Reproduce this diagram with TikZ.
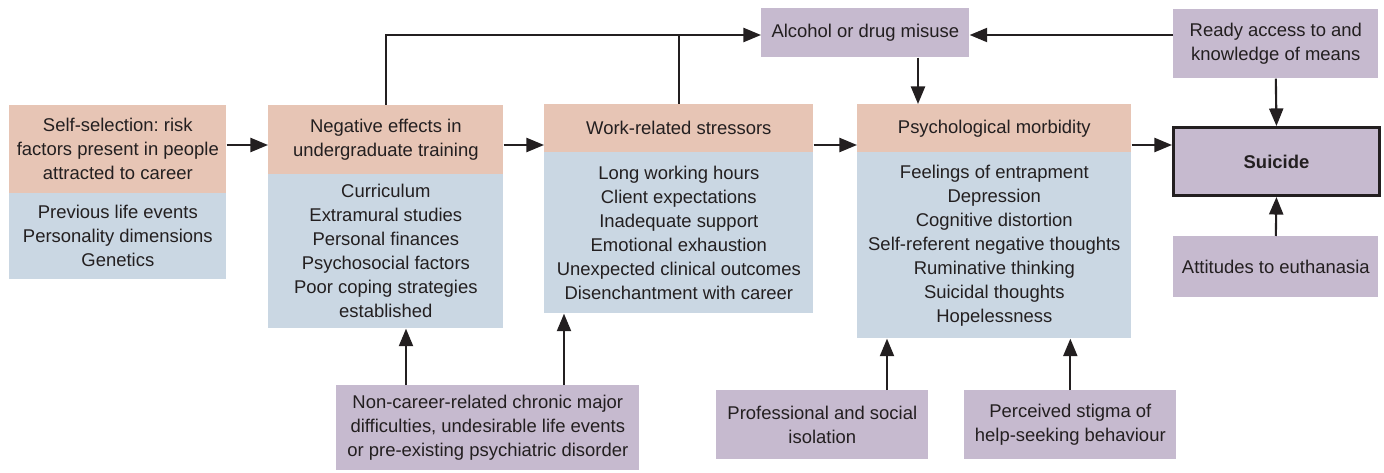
\documentclass[tikz,border=0pt]{standalone}
\usepackage{fontspec}
\setmainfont{Liberation Sans}
\frenchspacing
\usetikzlibrary{calc,arrows.meta}
\definecolor{peach}{HTML}{E7C5B5}
\definecolor{bluegrey}{HTML}{CAD7E3}
\definecolor{lilac}{HTML}{C6BACF}
\definecolor{ink}{HTML}{231F20}
\tikzset{
	box/.style={rectangle, anchor=north west, inner sep=0pt, align=center, text=ink,
		font=\fontsize{10.5}{13.66}\selectfont},
	headbox/.style={box, fill=peach},
	bodybox/.style={box, fill=bluegrey},
	sidebox/.style={box, fill=lilac},
	arr/.style={draw=ink, line width=1.2pt, -{Triangle[length=10pt,width=8pt]}},
	link/.style={draw=ink, line width=1.2pt}
}

\begin{document}
\begin{tikzpicture}[x=0.02cm, y=-0.02cm]
		%%%%% START %%%%%
		\useasboundingbox (0, 0) rectangle (1384, 473);
		
		\node[headbox, minimum width=4.34cm, minimum height=1.76cm] (selfH) at (9, 105) {Self-selection: risk\\factors present in people\\attracted to career};
		\node[bodybox, minimum width=4.34cm, minimum height=1.72cm] (selfB) at (9, 193) {Previous life events\\Personality dimensions\\Genetics};
		
		\node[headbox, minimum width=4.70cm, minimum height=1.38cm] (negH) at (268, 105) {Negative effects in\\undergraduate training};
		\node[bodybox, minimum width=4.70cm, minimum height=3.08cm] (negB) at (268, 174) {Curriculum\\Extramural studies\\Personal finances\\Psychosocial factors\\Poor coping strategies\\established};
		
		\node[headbox, minimum width=5.38cm, minimum height=0.96cm] (workH) at (544, 104) {Work-related stressors};
		\node[bodybox, minimum width=5.38cm, minimum height=3.22cm] (workB) at (544, 152) {Long working hours\\Client expectations\\Inadequate support\\Emotional exhaustion\\Unexpected clinical outcomes\\Disenchantment with career};
		
		\node[headbox, minimum width=5.48cm, minimum height=0.96cm] (psyH) at (857, 104) {Psychological morbidity};
		\node[bodybox, minimum width=5.48cm, minimum height=3.72cm] (psyB) at (857, 152) {Feelings of entrapment\\Depression\\Cognitive distortion\\Self-referent negative thoughts\\Ruminative thinking\\Suicidal thoughts\\Hopelessness};
		
		\node[sidebox, draw=ink, line width=1.7pt, minimum width=4.12cm, minimum height=1.36cm, font=\fontsize{10.5}{13.66}\selectfont\bfseries] (suicide) at (1172, 126) {Suicide};
		
		\node[sidebox, minimum width=4.16cm, minimum height=0.98cm] (alcohol) at (761, 8) {Alcohol or drug misuse};
		\node[sidebox, minimum width=4.10cm, minimum height=1.38cm] (ready) at (1173, 9) {Ready access to and\\knowledge of means};
		\node[sidebox, minimum width=4.10cm, minimum height=1.22cm] (attitudes) at (1173, 236) {Attitudes to euthanasia};
		\node[sidebox, minimum width=6.06cm, minimum height=1.70cm] (noncareer) at (336, 385) {Non-career-related chronic major\\difficulties, undesirable life events\\or pre-existing psychiatric disorder};
		\node[sidebox, minimum width=4.24cm, minimum height=1.38cm] (prof) at (716, 390) {Professional and social\\isolation};
		\node[sidebox, minimum width=4.24cm, minimum height=1.38cm] (stigma) at (964, 390) {Perceived stigma of\\help-seeking behaviour};
		
		\coordinate (row) at (0, 145);
		\coordinate (top) at (0, 35);
		\coordinate (ncL) at (406, 0);
		\coordinate (ncR) at (564, 0);
		\coordinate (profX) at (887, 0);
		\coordinate (alcX) at (918, 0);
		
		\draw[arr] (selfH.east |- row) -- (negH.west |- row);
		\draw[arr] (negH.east |- row) -- (workH.west |- row);
		\draw[arr] (workH.east |- row) -- (psyH.west |- row);
		\draw[arr] (psyH.east |- row) -- (suicide.west |- row);
		
		\draw[arr] (negH.north) |- (alcohol.west |- top);
		\draw[link] (workH.north) -- (workH.north |- top);
		\draw[arr] (ready.west |- top) -- (alcohol.east |- top);
		\draw[arr] (alcohol.south -| alcX) -- (psyH.north -| alcX);
		
		\draw[arr] (ready.south) -- (suicide.north);
		\draw[arr] (attitudes.north) -- (suicide.south);
		
		\draw[arr] (noncareer.north -| ncL) -- (negB.south -| ncL);
		\draw[arr] (noncareer.north -| ncR) -- (workB.south -| ncR);
		\draw[arr] (prof.north -| profX) -- (psyB.south -| profX);
		\draw[arr] (stigma.north) -- (psyB.south -| stigma.north);
		%%%%% END %%%%%
	\end{tikzpicture}
\end{document}
